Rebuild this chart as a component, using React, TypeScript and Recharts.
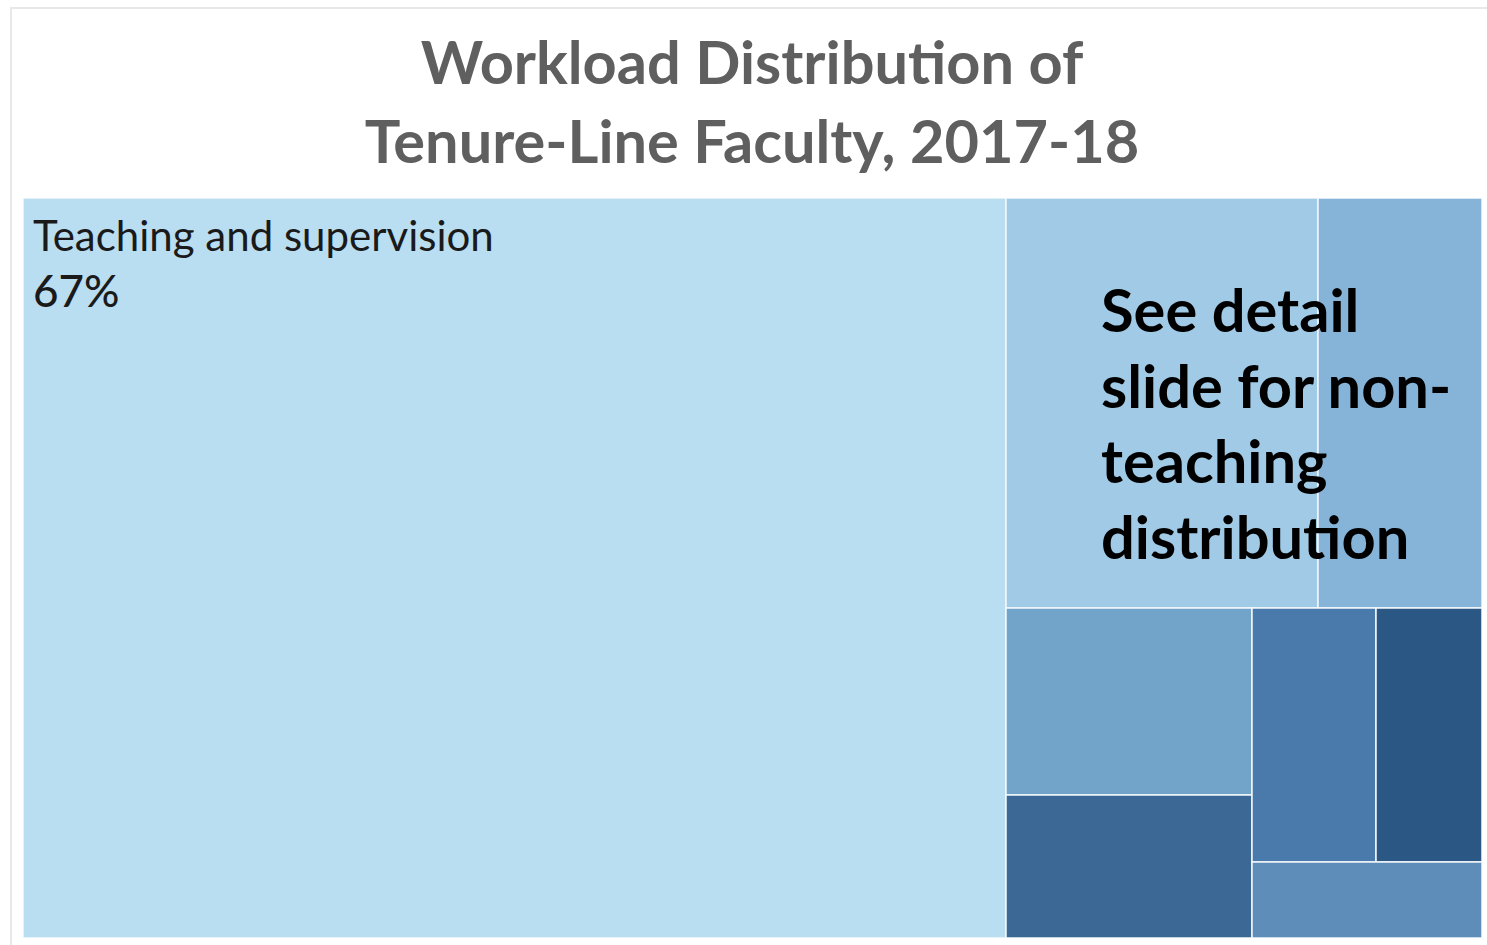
import { Treemap } from "recharts";

// workload shares (% of total effort), read from the tile areas
const categories = [
  "Teaching and supervision",
  "Research and scholarship",
  "Service",
  "Advising",
  "Administration",
  "Professional development",
  "Outreach",
  "Other",
];
const shares = [67.2, 11.8, 6.25, 4.24, 3.26, 2.92, 2.47, 1.6];

const titleLines = ["Workload Distribution of", "Tenure-Line Faculty, 2017-18"];
const noteLines = ["See detail", "slide for non-", "teaching", "distribution"];

const palette = ["#badef1", "#a0cae5", "#86b4d9", "#72a4c9", "#3b6894", "#4a7aab", "#2b5784", "#5e8dba"];

const treeData = categories.map((name, i) => ({ name, size: shares[i] }));

const Tile = (props: any) => {
  const { x, y, width, height, depth, index, name, value } = props;
  if (depth !== 1) return null;
  return (
    <g>
      <rect x={x} y={y} width={width} height={height} fill={palette[index]} stroke="#f4f8fb" strokeWidth={1.5} />
      {index === 0 && (
        <g fontFamily="Lato, sans-serif" fill="#1a1a1a">
          <text x={x + 10} y={y + 53} fontSize={42}>{name}</text>
          <text x={x + 10} y={y + 109} fontSize={44} fontWeight={500}>{`${Math.round(value)}%`}</text>
        </g>
      )}
    </g>
  );
};

const App = () => {
  return (
    <div style={{ position: "absolute", left: 0, top: 0, width: 1487, height: 945, background: "#fff", overflow: "hidden" }}>
      <div style={{ position: "absolute", left: 10, top: 7, width: 1480, height: 945, borderTop: "2px solid #e8e8e8", borderLeft: "2px solid #e8e8e8" }} />
      <div style={{ position: "absolute", left: 23, top: 198 }}>
        <Treemap
          width={1459}
          height={740}
          data={treeData}
          dataKey="size"
          nameKey="name"
          isAnimationActive={false}
          content={<Tile />}
        />
      </div>
      <svg width={1487} height={945} style={{ position: "absolute", left: 0, top: 0, pointerEvents: "none" }}>
        <g fontFamily="Lato, sans-serif" fontWeight={700} fill="#5f5f5f" fontSize={59.5} textAnchor="middle">
          {titleLines.map((t, i) => (
            <text key={t} x={752} y={84 + i * 79}>{t}</text>
          ))}
        </g>
        <g fontFamily="Lato, sans-serif" fontWeight={700} fill="#000" fontSize={59.6}>
          {noteLines.map((t, i) => (
            <text key={t} x={1101} y={332 + i * 75.7}>{t}</text>
          ))}
        </g>
      </svg>
    </div>
  );
};

export default App;
